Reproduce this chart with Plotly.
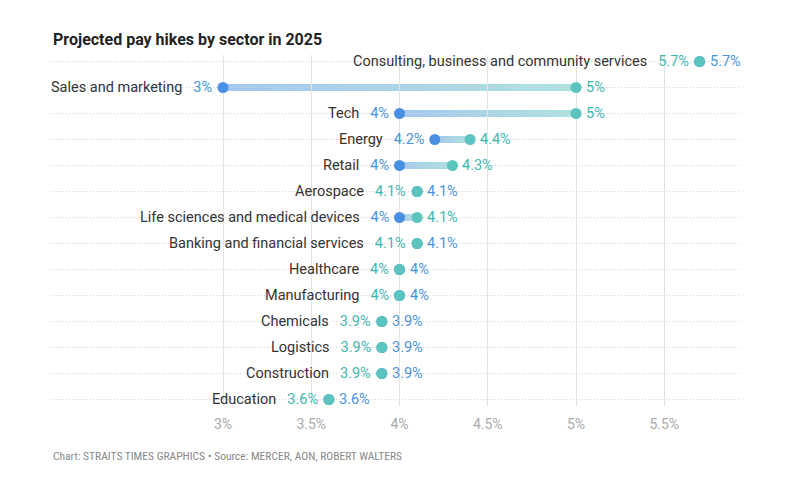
import plotly.graph_objects as go

categories = [
    "Consulting, business and community services",
    "Sales and marketing",
    "Tech",
    "Energy",
    "Retail",
    "Aerospace",
    "Life sciences and medical devices",
    "Banking and financial services",
    "Healthcare",
    "Manufacturing",
    "Chemicals",
    "Logistics",
    "Construction",
    "Education",
]
low_values = [5.7, 3, 4, 4.2, 4, 4.1, 4, 4.1, 4, 4, 3.9, 3.9, 3.9, 3.6]
high_values = [5.7, 5, 5, 4.4, 4.3, 4.1, 4.1, 4.1, 4, 4, 3.9, 3.9, 3.9, 3.6]
tick_values = [3, 3.5, 4, 4.5, 5, 5.5]
tick_labels = ["3%", "3.5%", "4%", "4.5%", "5%", "5.5%"]

BLUE = (74, 144, 226)
TEAL = (91, 196, 190)
BLUE_TXT = "#4a94dd"
TEAL_TXT = "#3fb8b0"
FONT = "Roboto"


def fmt(v):
    return f"{v:g}%"


def light(c, t):
    return tuple(int(round(255 * (1 - t) + ch * t)) for ch in c)


fig = go.Figure()
idx = list(range(len(categories)))

shapes = []
NSEG = 40
for i, (lo, hi) in enumerate(zip(low_values, high_values)):
    if hi > lo:
        span = hi - lo
        for k in range(NSEG):
            f0 = k / NSEG
            f1 = min((k + 2) / NSEG, 1.0)
            fm = (k + 0.5) / NSEG
            c = tuple(BLUE[j] * (1 - fm) + TEAL[j] * fm for j in range(3))
            c = light(c, 0.5)
            shapes.append(dict(
                type="line", xref="x", yref="y",
                x0=lo + span * f0, x1=lo + span * f1,
                y0=i, y1=i,
                line=dict(color=f"rgb{c}", width=7),
                layer="below",
            ))

fig.add_trace(go.Scatter(
    x=low_values, y=idx, mode="markers",
    marker=dict(size=11, color="rgb(74,144,226)"),
    hoverinfo="skip", showlegend=False, cliponaxis=False,
))
fig.add_trace(go.Scatter(
    x=high_values, y=idx, mode="markers",
    marker=dict(size=11, color="rgb(91,196,190)"),
    hoverinfo="skip", showlegend=False, cliponaxis=False,
))

annotations = []
for i, (cat, lo, hi) in enumerate(zip(categories, low_values, high_values)):
    if hi > lo:
        lcol, rcol = BLUE_TXT, TEAL_TXT
    else:
        lcol, rcol = TEAL_TXT, BLUE_TXT
    annotations.append(dict(
        x=lo, y=i, xref="x", yref="y",
        text=f"{cat}\u2002 <span style='color:{lcol}'>{fmt(lo)}</span>",
        showarrow=False, xanchor="right", yanchor="middle",
        xshift=-9, font=dict(family=FONT, size=14.5, color="#333333"),
    ))
    annotations.append(dict(
        x=hi, y=i, xref="x", yref="y",
        text=fmt(hi), showarrow=False, xanchor="left", yanchor="middle",
        xshift=8, font=dict(family=FONT, size=14.5, color=rcol),
    ))

annotations.append(dict(
    x=0, y=1, xref="paper", yref="paper", xanchor="left", yanchor="middle",
    yshift=16, text="<b>Projected pay hikes by sector in 2025</b>",
    showarrow=False, font=dict(family=FONT, size=16, color="#222222"),
))
annotations.append(dict(
    x=0, y=0, xref="paper", yref="paper", xanchor="left", yanchor="middle",
    yshift=-50,
    text="Chart: STRAITS TIMES GRAPHICS \u2022 Source: MERCER, AON, ROBERT WALTERS",
    showarrow=False, font=dict(family="Roboto Condensed, " + FONT, size=11.5, color="#888888"),
))

fig.update_layout(
    width=786, height=490,
    margin=dict(l=51, r=47, t=55, b=84),
    paper_bgcolor="white", plot_bgcolor="white",
    shapes=shapes, annotations=annotations,
    xaxis=dict(
        range=[2.0255, 5.9235], tickvals=tick_values, ticktext=tick_labels,
        showgrid=True, gridcolor="#e3e3e3", gridwidth=1,
        zeroline=False, showline=False,
        ticks="outside", ticklen=5, tickcolor="rgba(0,0,0,0)",
        tickfont=dict(family=FONT, size=14, color="#aaaaaa"),
    ),
    yaxis=dict(
        range=[len(categories) - 0.75, -0.25], showticklabels=False,
        showgrid=True, gridcolor="#d4d4d4", griddash="1px,2px", gridwidth=1,
        zeroline=False, showline=False, tickvals=idx,
    ),
)

fig.write_html("out.html")
